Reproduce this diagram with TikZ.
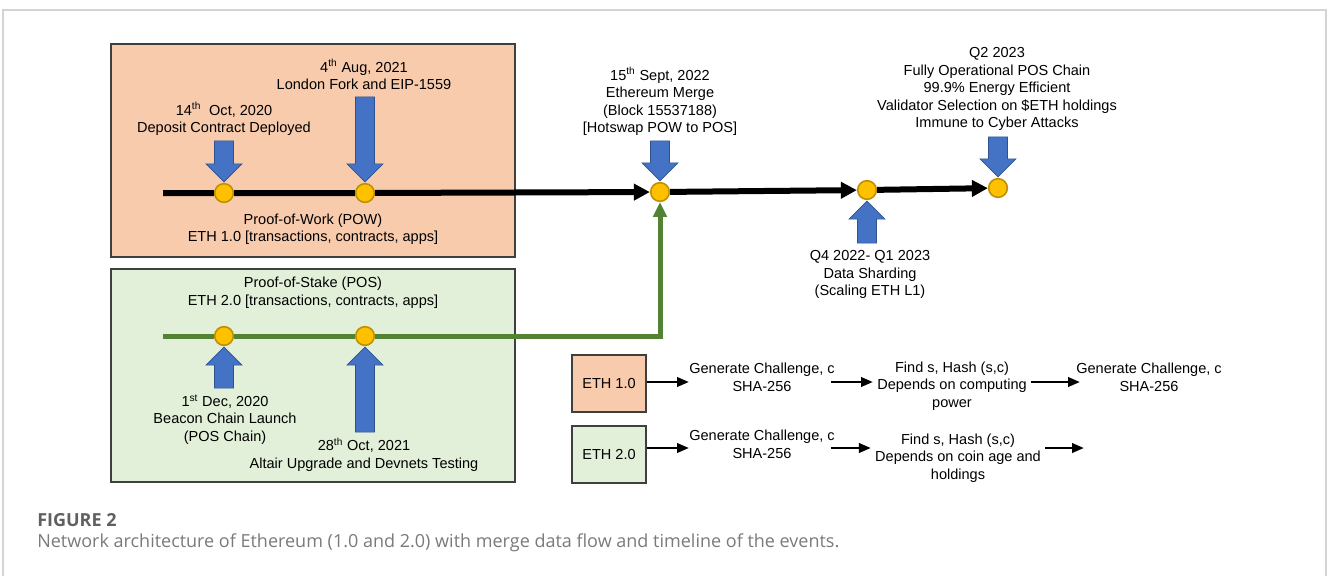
\documentclass[tikz,border=0pt]{standalone}
\usepackage{fontspec}
\setmainfont{Liberation Sans}
\newfontfamily\capfont{Open Sans}
\usetikzlibrary{arrows.meta,calc}
\definecolor{powFill}{HTML}{F8CBAD}
\definecolor{posFill}{HTML}{E2F0D9}
\definecolor{boxLine}{HTML}{3F3F3F}
\definecolor{evBlue}{HTML}{4472C4}
\definecolor{evBlueDark}{HTML}{2F528F}
\definecolor{evGold}{HTML}{FFC000}
\definecolor{evGoldDark}{HTML}{BF9000}
\definecolor{posGreen}{HTML}{548235}
\definecolor{frameGray}{HTML}{D4D4D4}
\definecolor{capGray}{HTML}{5F6062}
\definecolor{capText}{HTML}{7A7A7A}
\newcommand{\evdown}[2]{% node, shaft length (px)
  \begin{scope}[shift={(#1.north)}]
    \filldraw[evarrow] (-9.5,-#2) -- (9.5,-#2) -- (9.5,-19) -- (18,-19)
      -- (0,-1) -- (-18,-19) -- (-9.5,-19) -- cycle;
  \end{scope}
}
\newcommand{\evup}[2]{% node, shaft length (px)
  \begin{scope}[shift={(#1.south)}]
    \filldraw[evarrow] (-9.5,#2) -- (9.5,#2) -- (9.5,19) -- (18,19)
      -- (0,1) -- (-18,19) -- (-9.5,19) -- cycle;
  \end{scope}
}

\begin{document}
\begin{tikzpicture}[x=0.75pt, y=-0.75pt,
    lbl/.style={align=center, inner sep=0pt, font=\fontsize{10.9}{13.1}\selectfont},
    chainbox/.style={draw=boxLine, line width=1.1pt, minimum width=303pt, minimum height=159.75pt},
    ethbox/.style={draw=boxLine, line width=1.1pt, minimum width=55.5pt, minimum height=42.75pt,
      font=\fontsize{10.9}{13.1}\selectfont},
    evdot/.style={circle, fill=evGold, draw=evGoldDark, line width=1.2pt, minimum size=14pt, inner sep=0pt},
    evarrow/.style={fill=evBlue, draw=evBlueDark, line width=0.5pt},
    powline/.style={line width=4.5pt, -{Triangle[length=12pt,width=12pt]}},
    posline/.style={line width=3.75pt, posGreen, -{Triangle[length=11pt,width=10pt]}},
    flowarrow/.style={line width=2pt, -{Triangle[length=9pt,width=7pt]}}]
  \useasboundingbox (0,0) rectangle (1328,576);

  % page frame
  \draw[frameGray, line width=1.3pt] (3,576) -- (3,10) -- (1326,10) -- (1326,576);

  % the two chains
  \node[chainbox, fill=powFill] (powbox) at (313,150.5) {};
  \node[chainbox, fill=posFill] (posbox) at (313,375.5) {};

  % timeline events
  \coordinate (powstart) at (163,193);
  \coordinate (posstart) at (163,336);
  \coordinate (poscorner) at (660,336);
  \node[evdot] (pow1) at (224,193) {};
  \node[evdot] (pow2) at (365,193) {};
  \node[evdot] (merge) at (660,192) {};
  \node[evdot] (shard) at (867,190) {};
  \node[evdot] (q2) at (998,188) {};
  \node[evdot] (pos1) at (224,336) {};
  \node[evdot] (pos2) at (365,336) {};

  \draw[powline] (powstart) -- (pow1) -- (pow2) -- (merge);
  \draw[powline] (merge) -- (shard);
  \draw[powline] (shard) -- (q2);
  \draw[posline] (posstart) -- (pos1) -- (pos2) -- (poscorner) -- (merge);

  \evdown{pow1}{42}
  \evdown{pow2}{86}
  \evdown{merge}{41}
  \evdown{q2}{41}
  \evup{pos1}{42}
  \evup{pos2}{86}
  \evup{shard}{43}

  % event texts
  \node[lbl] (pow1txt) at (224,119) {14\textsuperscript{th}\ \ Oct, 2020\\Deposit Contract Deployed};
  \node[lbl] (pow2txt) at (364,74.5) {4\textsuperscript{th} Aug, 2021\\London Fork and EIP-1559};
  \node[lbl] (powtxt) at (313,229) {Proof-of-Work (POW)\\ETH 1.0 [transactions, contracts, apps]};
  \node[lbl] (postxt) at (313,292.5) {Proof-of-Stake (POS)\\ETH 2.0 [transactions, contracts, apps]};
  \node[lbl] (pos1txt) at (225,419.5) {1\textsuperscript{st} Dec, 2020\\Beacon Chain Launch\\(POS Chain)};
  \node[lbl] (pos2txt) at (364,454.5) {28\textsuperscript{th} Oct, 2021\\Altair Upgrade and Devnets Testing};
  \node[lbl] (mergetxt) at (660,101.5) {15\textsuperscript{th} Sept, 2022\\Ethereum Merge\\(Block 15537188)\\{}[Hotswap POW to POS]};
  \node[lbl] (shardtxt) at (870,274.5) {Q4 2022- Q1 2023\\Data Sharding\\(Scaling ETH L1)};
  \node[lbl] (q2txt) at (997,89) {Q2 2023\\Fully Operational POS Chain\\99.9\% Energy Efficient\\Validator Selection on \$ETH holdings\\Immune to Cyber Attacks};

  % consensus flow
  \node[ethbox, fill=powFill] (eth1) at (609,383.5) {ETH 1.0};
  \node[ethbox, fill=posFill] (eth2) at (609,454.5) {ETH 2.0};
  \coordinate (row1) at (0,382);
  \coordinate (row2) at (0,448);
  \coordinate (row2end) at (1084,448);
  \node[lbl] (gen1) at (762,377.5) {Generate Challenge, c\\SHA-256};
  \node[lbl] (find1) at (952,386) {Find s, Hash (s,c)\\Depends on computing\\power};
  \node[lbl] (gen3) at (1149,377.5) {Generate Challenge, c\\SHA-256};
  \node[lbl] (gen2) at (762,444.5) {Generate Challenge, c\\SHA-256};
  \node[lbl] (find2) at (958,458) {Find s, Hash (s,c)\\Depends on coin age and\\holdings};

  \draw[flowarrow] (eth1.east |- row1) -- (gen1.west |- row1);
  \draw[flowarrow] ([xshift=-3pt]gen1.east |- row1) -- ([xshift=-3pt]find1.west |- row1);
  \draw[flowarrow] ([xshift=3pt]find1.east |- row1) -- ([xshift=3pt]gen3.west |- row1);
  \draw[flowarrow] (eth2.east |- row2) -- (gen2.west |- row2);
  \draw[flowarrow] ([xshift=-3pt]gen2.east |- row2) -- ([xshift=-3pt]find2.west |- row2);
  \draw[flowarrow] ([xshift=3pt]find2.east |- row2) -- (row2end);

  % caption
  \node[anchor=west, inner sep=0pt, text=capGray, font=\capfont\bfseries\fontsize{13.5}{16}\selectfont]
    (figtag) at (37,520) {FIGURE 2};
  \node[anchor=west, inner sep=0pt, text=capText, font=\capfont\fontsize{13.5}{16}\selectfont]
    (figcap) at (37,543) {Network architecture of Ethereum (1.0 and 2.0) with merge data flow and timeline of the events.};
\end{tikzpicture}
\end{document}
